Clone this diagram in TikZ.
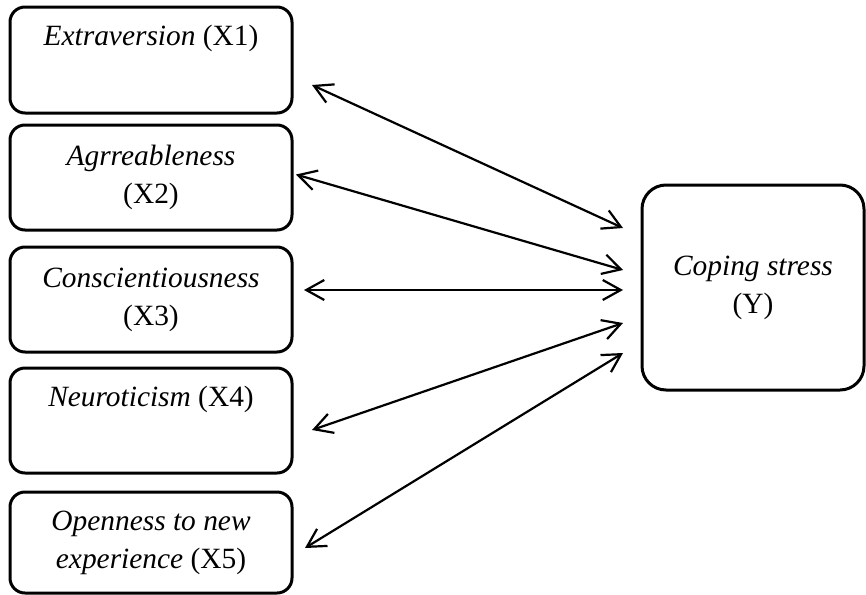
\documentclass[tikz,border=0pt]{standalone}
\usepackage{fontspec}
\setmainfont{Liberation Serif}
\usetikzlibrary{positioning,arrows.meta}
\tikzset{
  trait/.style  ={draw,rounded corners=7.5pt,line width=1.5pt,minimum width=141pt,minimum height=52.5pt,align=center,inner sep=0pt,outer sep=0pt,font=\fontsize{14.7}{19}\selectfont},
  outcome/.style={trait,rounded corners=12pt,minimum width=111pt,minimum height=102.5pt},
  barb/.tip     ={Straight Barb[length=9pt,width=10pt]},
  arr/.style    ={barb-barb,line width=1.1pt},
}

\begin{document}
\begin{tikzpicture}[x=0.5pt,y=-0.5pt]
  \useasboundingbox (0,0) rectangle (866,594);
  \node[trait, minimum height=53pt] (x1) at (151,60) {\textit{Extraversion} (X1)\\\strut};
  \node[trait, below=6pt of x1] (x2) {\textit{Agrreableness}\\(X2)};
  \node[trait, below=8.5pt of x2] (x3) {\textit{Conscientiousness}\\(X3)};
  \node[trait, below=8pt of x3] (x4) {\textit{Neuroticism} (X4)\\\strut};
  \node[trait, below=9.5pt of x4, minimum height=50.5pt] (x5) {\textit{Openness to new}\\\textit{experience} (X5)};
  \node[outcome] (cs) at (753,287.5) {\textit{Coping stress}\\(Y)};

  \draw[arr] ([shift={(20,25)}]x1.east) -- ([shift={(-19,-59.5)}]cs.west);
  \draw[arr] ([shift={(4,-3)}]x2.east) -- ([shift={(-19,-17.5)}]cs.west);
  \draw[arr] ([shift={(12,-9.5)}]x3.east) -- ([shift={(-19,2.5)}]cs.west);
  \draw[arr] ([shift={(20,9.5)}]x4.east) -- ([shift={(-19,35.5)}]cs.west);
  \draw[arr] ([shift={(13,5.5)}]x5.east) -- ([shift={(-19,65.5)}]cs.west);
\end{tikzpicture}
\end{document}
